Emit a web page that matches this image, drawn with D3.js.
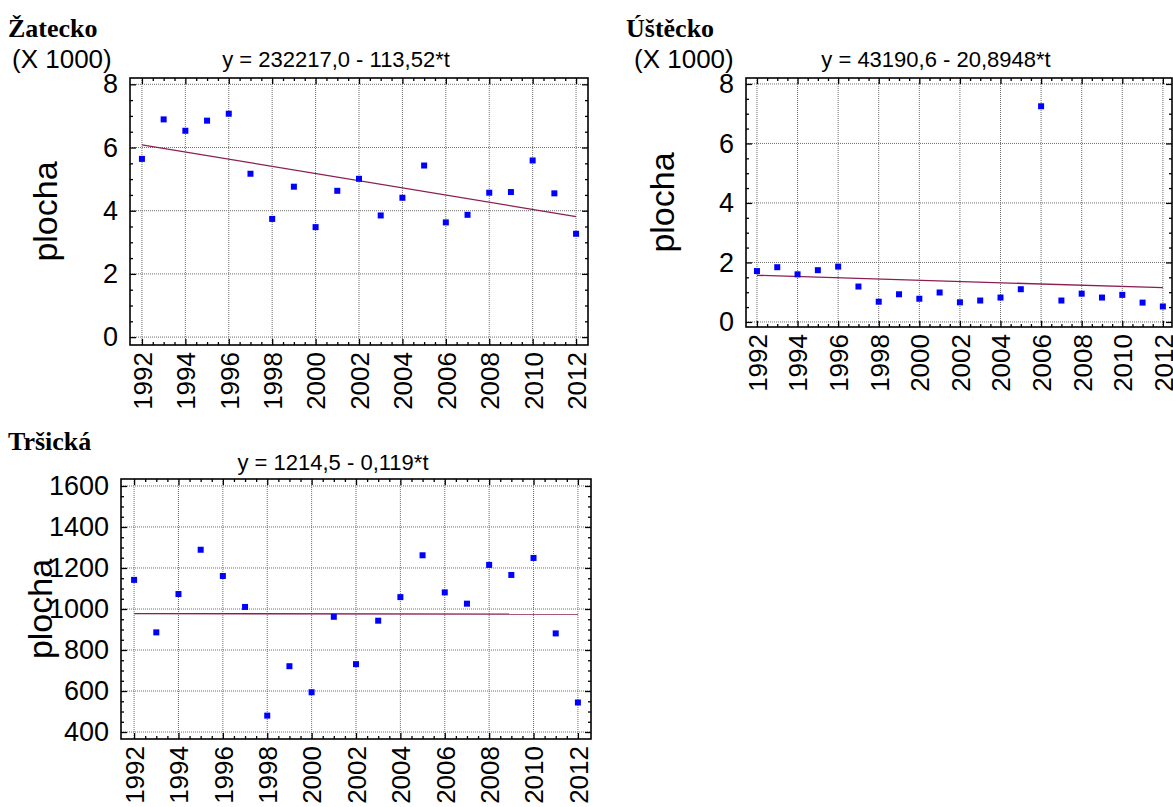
<!DOCTYPE html>
<html>
<head>
<meta charset="utf-8">
<script src="https://cdn.jsdelivr.net/npm/d3@7/dist/d3.min.js"></script>
<style>
  body { margin: 0; background: #fff; }
  svg { display: block; }
</style>
</head>
<body>
<svg id="chart" width="1173" height="807"></svg>
<script>
// Years of observation
const years = [1992, 1993, 1994, 1995, 1996, 1997, 1998, 1999, 2000, 2001, 2002,
               2003, 2004, 2005, 2006, 2007, 2008, 2009, 2010, 2011, 2012];
const yearTicks = [1992, 1994, 1996, 1998, 2000, 2002, 2004, 2006, 2008, 2010, 2012];

// Area (plocha, ha) per region
const zateckoArea = [5640, 6890, 6530, 6850, 7070, 5170, 3740, 4760, 3480, 4630, 5010,
                     3850, 4410, 5430, 3630, 3870, 4570, 4590, 5590, 4550, 3270];
const ustecskoArea = [1710, 1840, 1600, 1740, 1860, 1190, 680, 930, 780, 990, 660,
                      720, 820, 1100, 7250, 720, 950, 820, 910, 650, 520];
const trsickaArea = [1142, 886, 1073, 1289, 1161, 1010, 480, 721, 594, 962, 731,
                     943, 1058, 1262, 1081, 1026, 1215, 1166, 1249, 881, 544];

// Fitted linear trends y = a + b*t
const zateckoFit = [232217.0, -113.52];
const ustecskoFit = [43190.6, -20.8948];
const trsickaFit = [1214.5, -0.119];

// Tick labels
const ticksThousands = [0, 2, 4, 6, 8];
const ticksTrsicka = [400, 600, 800, 1000, 1200, 1400, 1600];

const titles = ["Žatecko", "Úštěcko", "Tršická"];
const equations = ["y = 232217,0 - 113,52*t", "y = 43190,6 - 20,8948*t", "y = 1214,5 - 0,119*t"];
const yTitle = "plocha";
const scaleNote = "(X 1000)";

const panels = [
  { title: titles[0], eq: equations[0], values: zateckoArea, fit: zateckoFit,
    div: 1000, yTicks: ticksThousands, yMinorStep: 0.5, note: true,
    frame: { l: 130, r: 588, t: 78, b: 345 },
    xDom: [1991.45, 2012.55], yDom: [-0.25, 8.2],
    titleXY: [8, 37], noteXY: [12, 68], eqY: 67, yLabX: 45 },
  { title: titles[1], eq: equations[1], values: ustecskoArea, fit: ustecskoFit,
    div: 1000, yTicks: ticksThousands, yMinorStep: 0.5, note: true,
    frame: { l: 746, r: 1172, t: 78, b: 327 },
    xDom: [1991.46, 2012.45], yDom: [-0.17, 8.2],
    titleXY: [626, 37], noteXY: [634, 68], eqY: 67, yLabX: 662 },
  { title: titles[2], eq: equations[2], values: trsickaArea, fit: trsickaFit,
    div: 1, yTicks: ticksTrsicka, yMinorStep: 50, note: false,
    frame: { l: 121, r: 591, t: 479, b: 739 },
    xDom: [1991.41, 2012.59], yDom: [366, 1634],
    titleXY: [8, 450], noteXY: null, eqY: 470, yLabX: 40 }
];

const svg = d3.select("#chart");
const sans = "'Liberation Sans', Arial, sans-serif";
const serif = "'Liberation Serif', 'Times New Roman', serif";

panels.forEach(p => {
  const f = p.frame;
  const x = d3.scaleLinear().domain(p.xDom).range([f.l, f.r]);
  const y = d3.scaleLinear().domain(p.yDom).range([f.b, f.t]);
  const g = svg.append("g");

  // grid
  g.append("g").selectAll("line").data(yearTicks).join("line")
    .attr("x1", d => x(d)).attr("x2", d => x(d))
    .attr("y1", f.t).attr("y2", f.b)
    .attr("stroke", "#6e6e6e").attr("stroke-width", 1).attr("stroke-dasharray", "1,1");
  g.append("g").selectAll("line").data(p.yTicks).join("line")
    .attr("x1", f.l).attr("x2", f.r)
    .attr("y1", d => y(d)).attr("y2", d => y(d))
    .attr("stroke", "#6e6e6e").attr("stroke-width", 1).attr("stroke-dasharray", "1,1");

  const xMinor = d3.range(yearTicks[0], yearTicks[yearTicks.length - 1] + 0.01, 0.5)
    .filter(v => !yearTicks.includes(v));
  const yLo = p.yTicks[0], yHi = p.yTicks[p.yTicks.length - 1];
  const yMinor = d3.range(yLo, yHi + 1e-6, p.yMinorStep)
    .filter(v => !p.yTicks.some(t => Math.abs(t - v) < 1e-6));

  const fmt = d => d.toString();

  // bottom axis with labels
  const bottom = g.append("g").attr("transform", `translate(0,${f.b})`)
    .call(d3.axisBottom(x).tickValues(yearTicks).tickSize(-6).tickSizeOuter(0).tickFormat(fmt));
  bottom.selectAll("text")
    .attr("transform", "rotate(-90)")
    .attr("x", -7).attr("y", 0).attr("dy", "0.36em")
    .style("text-anchor", "end")
    .style("font-family", sans).style("font-size", "26px").attr("fill", "#000");
  g.append("g").attr("transform", `translate(0,${f.b})`)
    .call(d3.axisBottom(x).tickValues(xMinor).tickSize(-3).tickSizeOuter(0).tickFormat(""));
  // top mirror ticks
  g.append("g").attr("transform", `translate(0,${f.t})`)
    .call(d3.axisTop(x).tickValues(yearTicks).tickSize(-6).tickSizeOuter(0).tickFormat(""));
  g.append("g").attr("transform", `translate(0,${f.t})`)
    .call(d3.axisTop(x).tickValues(xMinor).tickSize(-3).tickSizeOuter(0).tickFormat(""));

  // left axis with labels
  const left = g.append("g").attr("transform", `translate(${f.l},0)`)
    .call(d3.axisLeft(y).tickValues(p.yTicks).tickSize(-6).tickSizeOuter(0).tickPadding(12).tickFormat(fmt));
  left.selectAll("text")
    .style("font-family", sans).style("font-size", "27px").attr("fill", "#000");
  g.append("g").attr("transform", `translate(${f.l},0)`)
    .call(d3.axisLeft(y).tickValues(yMinor).tickSize(-3).tickSizeOuter(0).tickFormat(""));
  // right mirror ticks
  g.append("g").attr("transform", `translate(${f.r},0)`)
    .call(d3.axisRight(y).tickValues(p.yTicks).tickSize(-6).tickSizeOuter(0).tickFormat(""));
  g.append("g").attr("transform", `translate(${f.r},0)`)
    .call(d3.axisRight(y).tickValues(yMinor).tickSize(-3).tickSizeOuter(0).tickFormat(""));

  g.selectAll(".domain").remove();
  g.selectAll(".tick line").attr("stroke", "#000").attr("stroke-width", 1.3);

  // frame
  g.append("rect")
    .attr("x", f.l).attr("y", f.t).attr("width", f.r - f.l).attr("height", f.b - f.t)
    .attr("fill", "none").attr("stroke", "#000").attr("stroke-width", 1.6);

  // fitted trend line
  const t0 = years[0], t1 = years[years.length - 1];
  const fitLine = [t0, t1].map(t => [t, (p.fit[0] + p.fit[1] * t) / p.div]);
  g.append("path")
    .attr("d", d3.line().x(d => x(d[0])).y(d => y(d[1]))(fitLine))
    .attr("fill", "none").attr("stroke", "#8b1e52").attr("stroke-width", 1.3);

  // observations
  const s = 6;
  g.append("g").selectAll("rect").data(years.map((yr, i) => [yr, p.values[i] / p.div])).join("rect")
    .attr("x", d => x(d[0]) - s / 2).attr("y", d => y(d[1]) - s / 2)
    .attr("width", s).attr("height", s).attr("fill", "#0000ff");

  // texts
  svg.append("text").attr("x", p.titleXY[0]).attr("y", p.titleXY[1])
    .style("font-family", serif).style("font-weight", "bold").style("font-size", "26px")
    .text(p.title);
  if (p.note) {
    svg.append("text").attr("x", p.noteXY[0]).attr("y", p.noteXY[1])
      .style("font-family", sans).style("font-size", "26px").text(scaleNote);
  }
  svg.append("text").attr("x", (f.l + f.r) / 2 - 23).attr("y", p.eqY)
    .attr("text-anchor", "middle")
    .style("font-family", sans).style("font-size", "22px").text(p.eq);
  svg.append("text")
    .attr("transform", `translate(${p.yLabX},${(f.t + f.b) / 2}) rotate(-90)`)
    .attr("text-anchor", "middle").attr("dy", "0.35em")
    .style("font-family", sans).style("font-size", "34px").text(yTitle);
});
</script>
</body>
</html>
